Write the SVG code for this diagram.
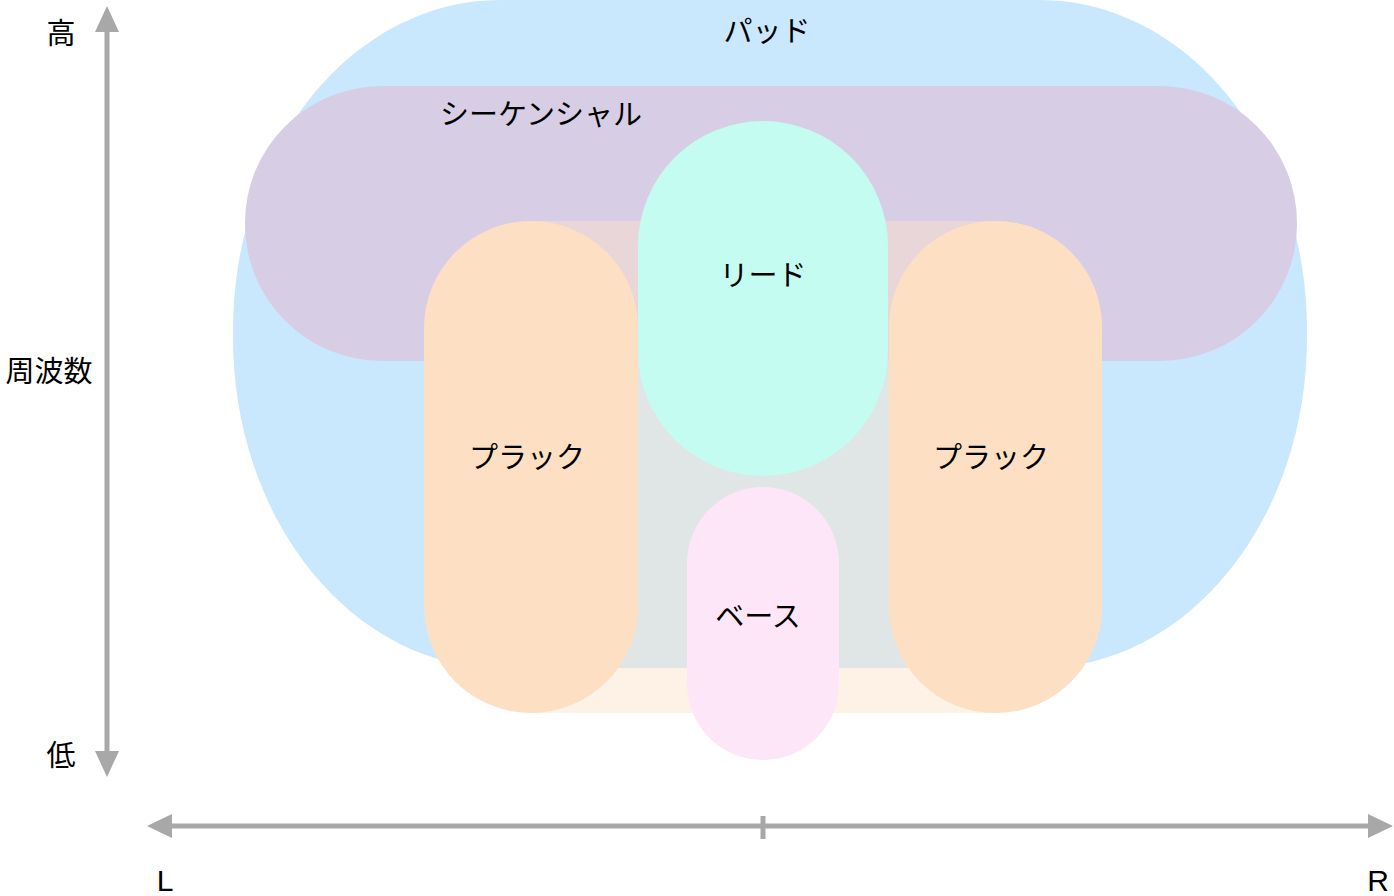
<svg xmlns="http://www.w3.org/2000/svg" width="1394" height="896" viewBox="0 0 1394 896">
<style>
text{font-family:"Noto Sans CJK JP","Liberation Sans",sans-serif;font-size:29px;fill:#000;text-anchor:middle}
.ax{stroke:#a8a8a8;stroke-width:5;fill:none}
.ah{fill:#a8a8a8}
</style>
<rect width="1394" height="896" fill="#fff"/>
<g id="pad">
<rect x="233" y="0" width="1074" height="668" rx="267" ry="330" fill="#c9e8fd"/>
<text x="767" y="42">パッド</text>
</g>
<g id="sequential">
<rect x="245" y="86" width="1052" height="275" rx="137" fill="#d7cde5"/>
<text x="541" y="125">シーケンシャル</text>
</g>
<g id="pluck-band">
<rect x="530" y="221" width="465" height="492" fill="#fce2c8" fill-opacity="0.45"/>
</g>
<g id="pluck-left">
<rect x="424" y="221" width="214" height="492" rx="107" fill="#fde0c4"/>
<text x="527" y="468">プラック</text>
</g>
<g id="pluck-right">
<rect x="889" y="221" width="213" height="492" rx="106" fill="#fde0c4"/>
<text x="991" y="468">プラック</text>
</g>
<g id="lead">
<rect x="638" y="121" width="250" height="355" rx="125" fill="#c4fcf1"/>
<text x="763" y="286">リード</text>
</g>
<g id="base">
<rect x="687" y="487" width="152" height="273" rx="76" fill="#fde6f7"/>
<text x="758" y="627">ベース</text>
</g>
<g id="axes">
<line class="ax" x1="107" y1="30" x2="107" y2="752"/>
<polygon class="ah" points="107,6 95,32 119,32"/>
<polygon class="ah" points="107,777 95,751 119,751"/>
<line class="ax" x1="170" y1="826" x2="1370" y2="826"/>
<polygon class="ah" points="147,826 172,814 172,838"/>
<polygon class="ah" points="1393,826 1368,814 1368,838"/>
<line class="ax" x1="763" y1="816" x2="763" y2="839"/>
</g>
<g id="labels">
<text x="61" y="44">高</text>
<text x="49" y="382">周波数</text>
<text x="61" y="766">低</text>
<text x="165" y="891" style="font-family:'Liberation Sans',sans-serif;font-size:30px">L</text>
<text x="1378" y="891" style="font-family:'Liberation Sans',sans-serif;font-size:30px">R</text>
</g>
</svg>
